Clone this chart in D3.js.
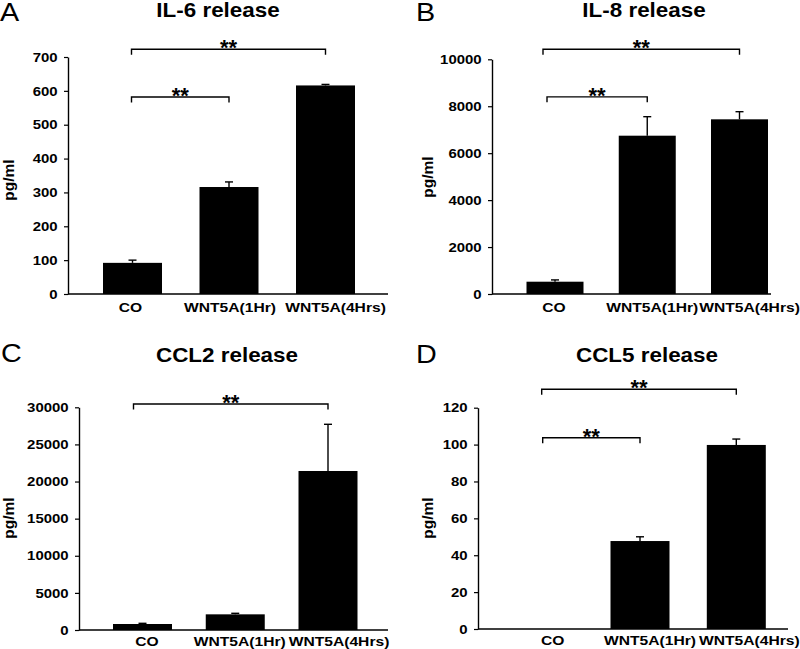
<!DOCTYPE html>
<html>
<head>
<meta charset="utf-8">
<script src="https://cdn.jsdelivr.net/npm/d3@7"></script>
<style>
  html, body { margin: 0; padding: 0; background: #fff; }
  text { font-family: "Liberation Sans", Arial, sans-serif; fill: #000; }
</style>
</head>
<body>
<svg id="chart" width="800" height="649"></svg>
<script>
// ---------------- DATA ----------------
const categories = ["CO", "WNT5A(1Hr)", "WNT5A(4Hrs)"];

const il6Means = [92, 316, 616];
const il6Errors = [8, 15, 3];
const il6Ticks = [0, 100, 200, 300, 400, 500, 600, 700];

const il8Means = [524, 6745, 7443];
const il8Errors = [76, 810, 325];
const il8Ticks = [0, 2000, 4000, 6000, 8000, 10000];

const ccl2Means = [808, 2110, 21420];
const ccl2Errors = [92, 140, 6290];
const ccl2Ticks = [0, 5000, 10000, 15000, 20000, 25000, 30000];

const ccl5Means = [0, 47.7, 99.8];
const ccl5Errors = [0, 2.3, 3.2];
const ccl5Ticks = [0, 20, 40, 60, 80, 100, 120];

const panelLetters = ["A", "B", "C", "D"];
const panelTitles = ["IL-6 release", "IL-8 release", "CCL2 release", "CCL5 release"];
const yAxisLabel = "pg/ml";
const sigLabel = "**";
// significance comparisons: [from category index, to category index, bracket level in data units]
const il6Sig = [[0, 2, 723], [0, 1, 582]];
const il8Sig = [[0, 2, 10430], [0, 1, 8400]];
const ccl2Sig = [[0, 2, 30450]];
const ccl5Sig = [[0, 2, 130], [0, 1, 103.7]];

// ---------------- LAYOUT ----------------
const SX = 1.15; // horizontal text stretch of the original figure
const panels = [
  { means: il6Means, errs: il6Errors, ticks: il6Ticks, sig: il6Sig, max: 700,
    y0: 294, yTop: 57, axisX: 68, xEnd: 388, centers: [132.5, 325.5], bw: 59,
    labelY: 312, labelDx: [-2, 1, 10], sigDx: [-1, -1],
    title: [218, 17], letter: [0, 21], ylab: [14, 180] },
  { means: il8Means, errs: il8Errors, ticks: il8Ticks, sig: il8Sig, max: 10000,
    y0: 294, yTop: 59.3, axisX: 492, xEnd: 771, centers: [555, 739.5], bw: 57,
    labelY: 312, labelDx: [-1, 5, 10], sigDx: [-12, -8],
    title: [644, 17], letter: [416, 21], ylab: [433, 177] },
  { means: ccl2Means, errs: ccl2Errors, ticks: ccl2Ticks, sig: ccl2Sig, max: 30000,
    y0: 630, yTop: 407.3, axisX: 79, xEnd: 388, centers: [142.5, 328], bw: 59,
    labelY: 646, labelDx: [4.5, 4.5, 11], sigDx: [-9],
    title: [227, 362], letter: [1, 362], ylab: [14, 518] },
  { means: ccl5Means, errs: ccl5Errors, ticks: ccl5Ticks, sig: ccl5Sig, max: 120,
    y0: 629, yTop: 407.7, axisX: 478, xEnd: 788, centers: [543.7, 736.3], bw: 59,
    labelY: 645, labelDx: [9, 10, 13], sigDx: [-2, -1],
    title: [647, 362], letter: [416, 363], ylab: [433, 518] }
];

const svg = d3.select("#chart");

function stext(g, x, y, txt, size, anchor, weight) {
  return g.append("text")
    .attr("transform", `translate(${x},${y}) scale(${SX},1)`)
    .attr("text-anchor", anchor)
    .style("font-size", size + "px")
    .style("font-weight", weight)
    .text(txt);
}

panels.forEach((p, pi) => {
  const g = svg.append("g");
  const y = d3.scaleLinear().domain([0, p.max]).range([p.y0, p.yTop]);
  const step = (p.centers[1] - p.centers[0]) / 2;
  const padIn = 1 - p.bw / step;
  const x = d3.scaleBand().domain(categories)
    .range([p.centers[0] - step / 2, p.centers[1] + step / 2])
    .paddingInner(padIn).paddingOuter(padIn / 2);
  const cx = c => x(c) + x.bandwidth() / 2;

  const rows = categories.map((c, i) => ({ c, m: p.means[i], e: p.errs[i], i }));

  // bars
  g.selectAll("rect.bar").data(rows.filter(d => d.m > 0)).join("rect")
    .attr("class", "bar")
    .attr("x", d => x(d.c)).attr("width", x.bandwidth())
    .attr("y", d => y(d.m)).attr("height", d => y(0) - y(d.m))
    .attr("fill", "#000");

  // error bars (upper only)
  const eb = rows.filter(d => d.e > 0);
  g.selectAll("line.err").data(eb).join("line")
    .attr("x1", d => cx(d.c)).attr("x2", d => cx(d.c))
    .attr("y1", d => y(d.m)).attr("y2", d => y(d.m + d.e))
    .attr("stroke", "#000").attr("stroke-width", 1.4);
  g.selectAll("line.cap").data(eb).join("line")
    .attr("x1", d => cx(d.c) - 4).attr("x2", d => cx(d.c) + 4)
    .attr("y1", d => y(d.m + d.e)).attr("y2", d => y(d.m + d.e))
    .attr("stroke", "#000").attr("stroke-width", 1.4);

  // y axis
  const ax = g.append("g").attr("transform", `translate(${p.axisX},0)`)
    .call(d3.axisLeft(y).tickValues(p.ticks).tickFormat(d3.format("d"))
      .tickSize(4).tickSizeOuter(0).tickPadding(5));
  ax.select(".domain").attr("stroke", "#000").attr("stroke-width", 1.4);
  ax.selectAll(".tick line").attr("stroke", "#000").attr("stroke-width", 1.2);
  ax.selectAll(".tick text")
    .attr("font-family", null).attr("font-size", null)
    .style("font-size", "13px").style("font-weight", "bold")
    .attr("transform", `scale(${SX},1)`);

  // x axis baseline
  g.append("line").attr("x1", p.axisX).attr("x2", p.xEnd)
    .attr("y1", p.y0).attr("y2", p.y0)
    .attr("stroke", "#000").attr("stroke-width", 1.4);

  // category labels
  categories.forEach((c, i) => {
    stext(g, cx(c) + p.labelDx[i], p.labelY, c, 13.6, "middle", "bold");
  });

  // y axis title
  g.append("text")
    .attr("transform", `translate(${p.ylab[0]},${p.ylab[1]}) rotate(-90)`)
    .attr("text-anchor", "middle")
    .style("font-size", "15.5px").style("font-weight", "bold")
    .text(yAxisLabel);

  // title and panel letter
  stext(g, p.title[0], p.title[1], panelTitles[pi], 19.5, "middle", "bold");
  stext(g, p.letter[0], p.letter[1], panelLetters[pi], 25, "start", "normal");

  // significance brackets
  p.sig.forEach((s, k) => {
    const yb = y(s[2]);
    const x1 = cx(categories[s[0]]) + p.sigDx[k];
    const x2 = cx(categories[s[1]]);
    g.append("path")
      .attr("d", `M${x1},${yb + 5.5}V${yb}H${x2}V${yb + 5.5}`)
      .attr("fill", "none").attr("stroke", "#000").attr("stroke-width", 1.4);
    g.append("text")
      .attr("x", (x1 + x2) / 2).attr("y", yb + 6)
      .attr("text-anchor", "middle")
      .style("font-size", "22px").style("font-weight", "bold")
      .text(sigLabel);
  });
});
</script>
</body>
</html>
